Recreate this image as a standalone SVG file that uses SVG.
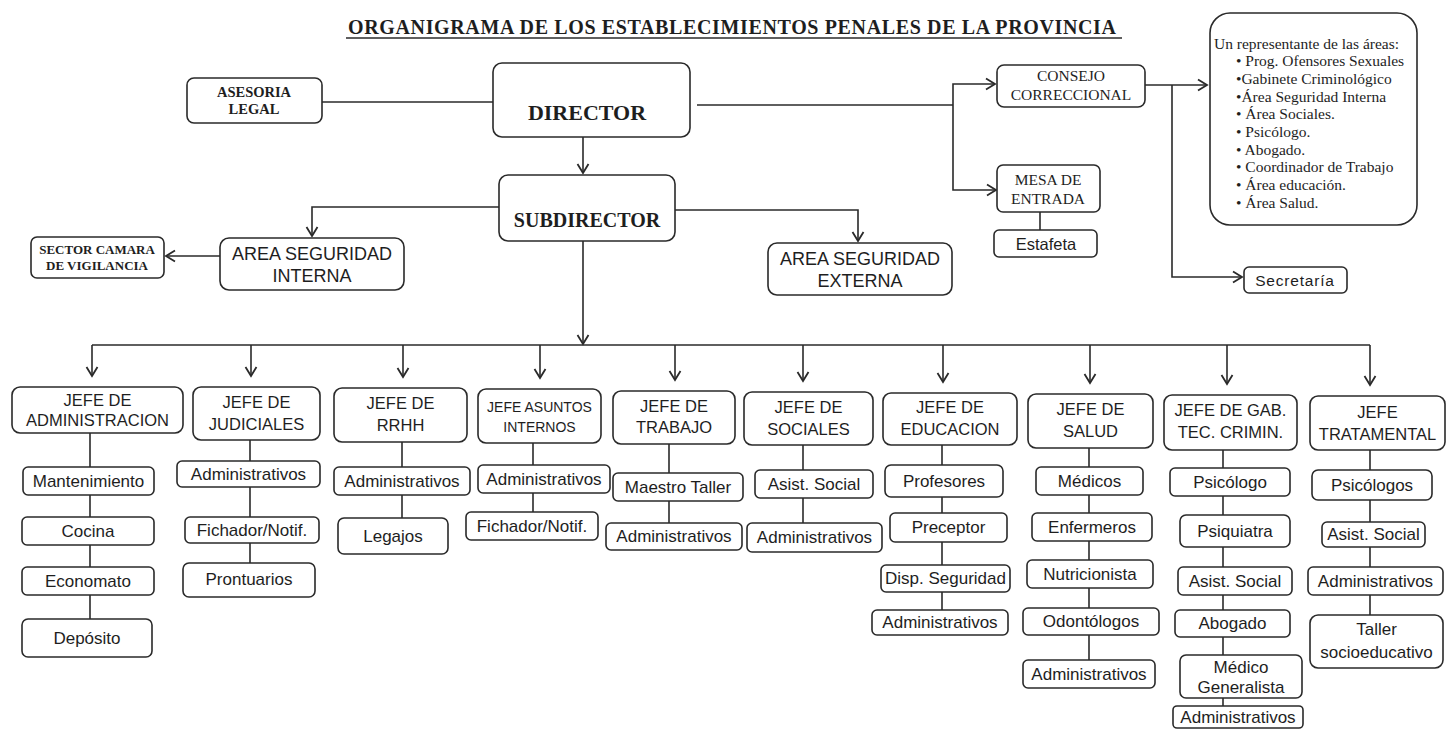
<svg xmlns="http://www.w3.org/2000/svg" width="1447" height="729" viewBox="0 0 1447 729">
<style>
  .box{fill:#fff;stroke:#2a2a2a;stroke-width:1.6}
  .ln{fill:none;stroke:#2a2a2a;stroke-width:1.6}
  .serif{font-family:"Liberation Serif","Times New Roman",serif;fill:#1e1e1e}
  .sans{font-family:"Liberation Sans",Arial,sans-serif;fill:#1e1e1e}
  text{text-anchor:middle}
  .jefe{font-size:16.5px}
  .item{font-size:17px}
  .list{font-size:15.5px;text-anchor:start}
</style>
<defs>
  <marker id="arr" markerUnits="userSpaceOnUse" markerWidth="14" markerHeight="14" viewBox="-11 -7 13 14" refX="0" refY="0" orient="auto">
    <path d="M-9,-5.5 L0,0 L-9,5.5" fill="none" stroke="#2a2a2a" stroke-width="1.8"/>
  </marker>
</defs>
<rect width="1447" height="729" fill="#fff"/>

<g id="title">
  <text class="serif" x="348" y="34" font-size="20" font-weight="bold" textLength="768" lengthAdjust="spacing" style="text-anchor:start">ORGANIGRAMA DE LOS ESTABLECIMIENTOS PENALES DE LA PROVINCIA</text>
  <line x1="346" y1="38" x2="1122" y2="38" stroke="#2a2a2a" stroke-width="1.5"/>
</g>

<g id="connectors">
  <path class="ln" d="M322,102 H493"/>
  <path class="ln" d="M583,137 V173" marker-end="url(#arr)"/>
  <path class="ln" d="M697,105 H953"/>
  <path class="ln" d="M953,105 V84 H995" marker-end="url(#arr)"/>
  <path class="ln" d="M953,105 V190 H996" marker-end="url(#arr)"/>
  <path class="ln" d="M1040,212 V230"/>
  <path class="ln" d="M1145,85 H1207" marker-end="url(#arr)"/>
  <path class="ln" d="M1172,85 V277 H1242" marker-end="url(#arr)"/>
  <path class="ln" d="M499,207 H312 V236" marker-end="url(#arr)"/>
  <path class="ln" d="M675,210 H858 V241" marker-end="url(#arr)"/>
  <path class="ln" d="M220,256 H166" marker-end="url(#arr)"/>
  <path class="ln" d="M583,241 V344" marker-end="url(#arr)"/>
  <path class="ln" d="M92,345 H1370"/>
  <path class="ln" d="M92,345 V376" marker-end="url(#arr)"/>
  <path class="ln" d="M251,345 V376" marker-end="url(#arr)"/>
  <path class="ln" d="M403,345 V377" marker-end="url(#arr)"/>
  <path class="ln" d="M540,345 V378" marker-end="url(#arr)"/>
  <path class="ln" d="M675,345 V380" marker-end="url(#arr)"/>
  <path class="ln" d="M803,345 V381" marker-end="url(#arr)"/>
  <path class="ln" d="M943,345 V382" marker-end="url(#arr)"/>
  <path class="ln" d="M1090,345 V383" marker-end="url(#arr)"/>
  <path class="ln" d="M1227,345 V384" marker-end="url(#arr)"/>
  <path class="ln" d="M1370,345 V385" marker-end="url(#arr)"/>
  <path class="ln" d="M90,433 V619"/>
  <path class="ln" d="M250,440 V563"/>
  <path class="ln" d="M402,442 V518"/>
  <path class="ln" d="M533,443 V512"/>
  <path class="ln" d="M669,444 V523"/>
  <path class="ln" d="M803,445 V523"/>
  <path class="ln" d="M942,445 V610"/>
  <path class="ln" d="M1089,448 V660"/>
  <path class="ln" d="M1223,450 V706"/>
  <path class="ln" d="M1370,450 V615"/>
</g>

<g id="asesoria-legal">
  <rect class="box" x="187" y="78" width="135" height="45" rx="7"/>
  <text class="serif" x="254" y="97" font-size="14.5" font-weight="bold">ASESORIA</text>
  <text class="serif" x="254" y="114" font-size="14.5" font-weight="bold">LEGAL</text>
</g>
<g id="director">
  <rect class="box" x="493" y="63" width="197" height="74" rx="9"/>
  <text class="serif" x="587" y="120" font-size="22" font-weight="bold">DIRECTOR</text>
</g>
<g id="subdirector">
  <rect class="box" x="499" y="175" width="176" height="66" rx="9"/>
  <text class="serif" x="587" y="227" font-size="20" font-weight="bold">SUBDIRECTOR</text>
</g>
<g id="consejo-correccional">
  <rect class="box" x="997" y="65" width="148" height="42" rx="7"/>
  <text class="serif" x="1071" y="81" font-size="15.5">CONSEJO</text>
  <text class="serif" x="1071" y="100" font-size="15.5">CORRECCIONAL</text>
</g>
<g id="mesa-de-entrada">
  <rect class="box" x="997" y="165" width="103" height="47" rx="6"/>
  <text class="serif" x="1048" y="185" font-size="15.5">MESA DE</text>
  <text class="serif" x="1048" y="204" font-size="15.5">ENTRADA</text>
</g>
<g id="estafeta">
  <rect class="box" x="994" y="230" width="103" height="27" rx="5"/>
  <text class="sans" x="1046" y="250" font-size="16.5">Estafeta</text>
</g>
<g id="representantes">
  <rect class="box" x="1210" y="13" width="207" height="212" rx="20"/>
  <text class="serif list" x="1214" y="49">Un representante de las áreas:</text>
  <text class="serif list" x="1236" y="66">• Prog. Ofensores Sexuales</text>
  <text class="serif list" x="1236" y="84">•Gabinete Criminológico</text>
  <text class="serif list" x="1236" y="102">•Área Seguridad Interna</text>
  <text class="serif list" x="1236" y="119">• Área Sociales.</text>
  <text class="serif list" x="1236" y="137">• Psicólogo.</text>
  <text class="serif list" x="1236" y="155">• Abogado.</text>
  <text class="serif list" x="1236" y="172">• Coordinador de Trabajo</text>
  <text class="serif list" x="1236" y="190">• Área educación.</text>
  <text class="serif list" x="1236" y="208">• Área Salud.</text>
</g>
<g id="secretaria">
  <rect class="box" x="1244" y="267" width="103" height="26" rx="5"/>
  <text class="sans" x="1295" y="286" font-size="15.5" letter-spacing="0.8">Secretaría</text>
</g>
<g id="area-seguridad-interna">
  <rect class="box" x="220" y="238" width="184" height="52" rx="9"/>
  <text class="sans" x="312" y="260" font-size="18">AREA SEGURIDAD</text>
  <text class="sans" x="312" y="282" font-size="18">INTERNA</text>
</g>
<g id="sector-camara">
  <rect class="box" x="31" y="237" width="133" height="41" rx="6"/>
  <text class="serif" x="97" y="254" font-size="13" font-weight="bold">SECTOR CAMARA</text>
  <text class="serif" x="97" y="270" font-size="13" font-weight="bold">DE VIGILANCIA</text>
</g>
<g id="area-seguridad-externa">
  <rect class="box" x="768" y="243" width="184" height="52" rx="9"/>
  <text class="sans" x="860" y="265" font-size="18">AREA SEGURIDAD</text>
  <text class="sans" x="860" y="287" font-size="18">EXTERNA</text>
</g>

<g id="jefe-administracion">
  <rect class="box" x="12" y="387" width="171" height="46" rx="8"/>
  <text class="sans jefe" x="97.5" y="406">JEFE DE</text>
  <text class="sans jefe" x="97.5" y="426">ADMINISTRACION</text>
</g>
<g id="jefe-judiciales">
  <rect class="box" x="193" y="387" width="127" height="53" rx="8"/>
  <text class="sans jefe" x="256.5" y="408">JEFE DE</text>
  <text class="sans jefe" x="256.5" y="430">JUDICIALES</text>
</g>
<g id="jefe-rrhh">
  <rect class="box" x="334" y="388" width="133" height="54" rx="8"/>
  <text class="sans jefe" x="400.5" y="409">JEFE DE</text>
  <text class="sans jefe" x="400.5" y="431">RRHH</text>
</g>
<g id="jefe-asuntos-internos">
  <rect class="box" x="478" y="389" width="123" height="54" rx="8"/>
  <text class="sans" x="539.5" y="412" font-size="14">JEFE ASUNTOS</text>
  <text class="sans" x="539.5" y="432" font-size="14">INTERNOS</text>
</g>
<g id="jefe-trabajo">
  <rect class="box" x="613" y="391" width="122" height="53" rx="8"/>
  <text class="sans jefe" x="674" y="412">JEFE DE</text>
  <text class="sans jefe" x="674" y="433">TRABAJO</text>
</g>
<g id="jefe-sociales">
  <rect class="box" x="744" y="392" width="129" height="53" rx="8"/>
  <text class="sans jefe" x="808.5" y="413">JEFE DE</text>
  <text class="sans jefe" x="808.5" y="435">SOCIALES</text>
</g>
<g id="jefe-educacion">
  <rect class="box" x="883" y="393" width="134" height="52" rx="8"/>
  <text class="sans jefe" x="950" y="413">JEFE DE</text>
  <text class="sans jefe" x="950" y="435">EDUCACION</text>
</g>
<g id="jefe-salud">
  <rect class="box" x="1028" y="394" width="125" height="54" rx="8"/>
  <text class="sans jefe" x="1090.5" y="415">JEFE DE</text>
  <text class="sans jefe" x="1090.5" y="437">SALUD</text>
</g>
<g id="jefe-gab-tec-crimin">
  <rect class="box" x="1164" y="395" width="133" height="55" rx="8"/>
  <text class="sans jefe" x="1230.5" y="416">JEFE DE GAB.</text>
  <text class="sans jefe" x="1230.5" y="438">TEC. CRIMIN.</text>
</g>
<g id="jefe-tratamental">
  <rect class="box" x="1310" y="396" width="135" height="54" rx="8"/>
  <text class="sans jefe" x="1377.5" y="418">JEFE</text>
  <text class="sans jefe" x="1377.5" y="440">TRATAMENTAL</text>
</g>

<g id="adm-mantenimiento"><rect class="box" x="23" y="467" width="131" height="28" rx="5"/><text class="sans item" x="88.5" y="487">Mantenimiento</text></g>
<g id="adm-cocina"><rect class="box" x="22" y="517" width="132" height="28" rx="5"/><text class="sans item" x="88" y="537">Cocina</text></g>
<g id="adm-economato"><rect class="box" x="22" y="567" width="132" height="28" rx="5"/><text class="sans item" x="88" y="587">Economato</text></g>
<g id="adm-deposito"><rect class="box" x="22" y="619" width="130" height="38" rx="6"/><text class="sans item" x="87" y="644">Depósito</text></g>

<g id="jud-administrativos"><rect class="box" x="177" y="461" width="143" height="26" rx="5"/><text class="sans item" x="248.5" y="480">Administrativos</text></g>
<g id="jud-fichador"><rect class="box" x="185" y="517" width="134" height="26" rx="5"/><text class="sans item" x="252" y="536">Fichador/Notif.</text></g>
<g id="jud-prontuarios"><rect class="box" x="183" y="563" width="132" height="34" rx="6"/><text class="sans item" x="249" y="585">Prontuarios</text></g>

<g id="rrhh-administrativos"><rect class="box" x="334" y="467" width="136" height="28" rx="5"/><text class="sans item" x="402" y="487">Administrativos</text></g>
<g id="rrhh-legajos"><rect class="box" x="338" y="518" width="110" height="36" rx="6"/><text class="sans item" x="393" y="542">Legajos</text></g>

<g id="ai-administrativos"><rect class="box" x="478" y="465" width="132" height="28" rx="5"/><text class="sans item" x="544" y="485">Administrativos</text></g>
<g id="ai-fichador"><rect class="box" x="466" y="512" width="132" height="28" rx="5"/><text class="sans item" x="532" y="532">Fichador/Notif.</text></g>

<g id="trab-maestro-taller"><rect class="box" x="613" y="473" width="130" height="28" rx="5"/><text class="sans item" x="678" y="493">Maestro Taller</text></g>
<g id="trab-administrativos"><rect class="box" x="606" y="523" width="136" height="27" rx="5"/><text class="sans item" x="674" y="542">Administrativos</text></g>

<g id="soc-asist-social"><rect class="box" x="755" y="470" width="118" height="28" rx="5"/><text class="sans item" x="814" y="490">Asist. Social</text></g>
<g id="soc-administrativos"><rect class="box" x="747" y="523" width="135" height="29" rx="5"/><text class="sans item" x="814.5" y="543">Administrativos</text></g>

<g id="edu-profesores"><rect class="box" x="885" y="465" width="118" height="32" rx="6"/><text class="sans item" x="944" y="487">Profesores</text></g>
<g id="edu-preceptor"><rect class="box" x="890" y="513" width="117" height="29" rx="5"/><text class="sans item" x="948.5" y="533">Preceptor</text></g>
<g id="edu-disp-seguridad"><rect class="box" x="881" y="565" width="129" height="27" rx="5"/><text class="sans item" x="945.5" y="584">Disp. Seguridad</text></g>
<g id="edu-administrativos"><rect class="box" x="872" y="610" width="136" height="25" rx="5"/><text class="sans item" x="940" y="628">Administrativos</text></g>

<g id="sal-medicos"><rect class="box" x="1036" y="467" width="107" height="28" rx="5"/><text class="sans item" x="1089.5" y="487">Médicos</text></g>
<g id="sal-enfermeros"><rect class="box" x="1032" y="513" width="120" height="28" rx="5"/><text class="sans item" x="1092" y="533">Enfermeros</text></g>
<g id="sal-nutricionista"><rect class="box" x="1027" y="560" width="126" height="28" rx="5"/><text class="sans item" x="1090" y="580">Nutricionista</text></g>
<g id="sal-odontologos"><rect class="box" x="1023" y="608" width="136" height="27" rx="5"/><text class="sans item" x="1091" y="627">Odontólogos</text></g>
<g id="sal-administrativos"><rect class="box" x="1023" y="660" width="132" height="28" rx="5"/><text class="sans item" x="1089" y="680">Administrativos</text></g>

<g id="gab-psicologo"><rect class="box" x="1170" y="468" width="120" height="28" rx="5"/><text class="sans item" x="1230" y="488">Psicólogo</text></g>
<g id="gab-psiquiatra"><rect class="box" x="1180" y="515" width="110" height="32" rx="6"/><text class="sans item" x="1235" y="537">Psiquiatra</text></g>
<g id="gab-asist-social"><rect class="box" x="1178" y="567" width="114" height="28" rx="5"/><text class="sans item" x="1235" y="587">Asist. Social</text></g>
<g id="gab-abogado"><rect class="box" x="1175" y="610" width="115" height="27" rx="5"/><text class="sans item" x="1232.5" y="629">Abogado</text></g>
<g id="gab-medico-generalista"><rect class="box" x="1180" y="655" width="122" height="43" rx="6"/><text class="sans item" x="1241" y="673">Médico</text><text class="sans item" x="1241" y="693">Generalista</text></g>
<g id="gab-administrativos"><rect class="box" x="1173" y="706" width="130" height="22" rx="4"/><text class="sans item" x="1238" y="723">Administrativos</text></g>

<g id="trat-psicologos"><rect class="box" x="1312" y="470" width="120" height="30" rx="6"/><text class="sans item" x="1372" y="491">Psicólogos</text></g>
<g id="trat-asist-social"><rect class="box" x="1322" y="522" width="103" height="25" rx="5"/><text class="sans item" x="1373.5" y="540">Asist. Social</text></g>
<g id="trat-administrativos"><rect class="box" x="1308" y="567" width="135" height="28" rx="5"/><text class="sans item" x="1375.5" y="587">Administrativos</text></g>
<g id="trat-taller"><rect class="box" x="1310" y="615" width="133" height="53" rx="8"/><text class="sans item" x="1376.5" y="635">Taller</text><text class="sans item" x="1376.5" y="658">socioeducativo</text></g>
</svg>
